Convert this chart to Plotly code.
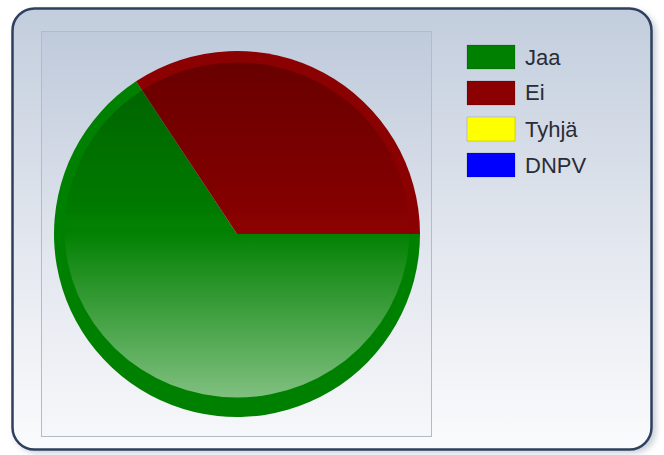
"""Aanestystulos piirakkana (Jaa / Ei / Tyhja / DNPV)."""

import base64
import plotly.graph_objects as go

# Data
nimet = ["Jaa", "Ei", "Tyhjä", "DNPV"]
osuudet = [65.7, 34.3, 0, 0]
varit = ["#008000", "#8b0000", "#ffff00", "#0000ff"]

W, H = 664, 455


def px_x(x):
    return x / W


def px_y(y):
    return 1 - y / H


def svg_uri(svg):
    return "data:image/svg+xml;base64," + base64.b64encode(svg.encode("utf-8")).decode("ascii")


# Taustapaneeli: pyoristetty kehys + kaltevuusvari
tausta_svg = f"""<svg xmlns='http://www.w3.org/2000/svg' width='{W}' height='{H}' viewBox='0 0 {W} {H}'>
<defs>
<linearGradient id='p' x1='0' y1='0' x2='0' y2='1'>
<stop offset='0' stop-color='#c2cddd'/>
<stop offset='0.55' stop-color='#e4e8ef'/>
<stop offset='1' stop-color='#fafbfc'/>
</linearGradient>
<linearGradient id='a' x1='0' y1='0' x2='0' y2='1'>
<stop offset='0' stop-color='#bfcadb'/>
<stop offset='0.55' stop-color='#e2e6ee'/>
<stop offset='1' stop-color='#f6f7fa'/>
</linearGradient>
<filter id='s' x='-5%' y='-5%' width='110%' height='110%'>
<feGaussianBlur stdDeviation='3'/>
</filter>
</defs>
<rect x='15' y='11' width='641' height='442' rx='22' fill='#9aa6b8' opacity='0.55' filter='url(#s)'/>
<rect x='12.5' y='8.5' width='639' height='441' rx='22' fill='url(#p)' stroke='#2f405e' stroke-width='2.5'/>
<rect x='41.5' y='31.5' width='390' height='405' fill='url(#a)' stroke='#b3bbc7' stroke-width='1'/>
</svg>"""

# Piirakan sisaosan varjostus (hieman ylos siirretty ellipsi)
RX_IN, RY_IN = 173, 168
CX_IN, CY_IN = 237, 230
varjo_svg = f"""<svg xmlns='http://www.w3.org/2000/svg' width='{2 * RX_IN}' height='{2 * RY_IN}' viewBox='0 0 {2 * RX_IN} {2 * RY_IN}' preserveAspectRatio='none'>
<defs>
<linearGradient id='g' x1='0' y1='0' x2='0' y2='1'>
<stop offset='0' stop-color='#000' stop-opacity='0.25'/>
<stop offset='0.45' stop-color='#000' stop-opacity='0.04'/>
<stop offset='0.5' stop-color='#fff' stop-opacity='0'/>
<stop offset='1' stop-color='#fff' stop-opacity='0.5'/>
</linearGradient>
</defs>
<ellipse cx='{RX_IN}' cy='{RY_IN}' rx='{RX_IN - 0.5}' ry='{RY_IN - 0.5}' fill='url(#g)'/>
</svg>"""

fig = go.Figure()

# Piirakka
R_OUT = 183
CX, CY = 237, 234
fig.add_trace(go.Pie(
    labels=nimet,
    values=osuudet,
    marker=dict(colors=varit, line=dict(width=0)),
    sort=False,
    direction="clockwise",
    rotation=90,
    textinfo="none",
    hoverinfo="label+percent",
    showlegend=False,
    domain=dict(
        x=[px_x(CX - R_OUT), px_x(CX + R_OUT)],
        y=[px_y(CY + R_OUT), px_y(CY - R_OUT)],
    ),
))

kuvat = [
    dict(source=svg_uri(tausta_svg), xref="paper", yref="paper",
         x=0, y=1, sizex=1, sizey=1, xanchor="left", yanchor="top",
         sizing="stretch", layer="below"),
    dict(source=svg_uri(varjo_svg), xref="paper", yref="paper",
         x=px_x(CX_IN - RX_IN), y=px_y(CY_IN - RY_IN),
         sizex=2 * RX_IN / W, sizey=2 * RY_IN / H,
         xanchor="left", yanchor="top", sizing="stretch", layer="above"),
]

# Selite kasin: leveat varilaatikot + teksti
muodot = []
tekstit = []
for i, (nimi, vari) in enumerate(zip(nimet, varit)):
    yk = 57 + 36 * i
    muodot.append(dict(
        type="rect", xref="paper", yref="paper",
        x0=px_x(467), x1=px_x(515), y0=px_y(yk + 12), y1=px_y(yk - 12),
        fillcolor=vari, line=dict(color="rgba(0,0,0,0.15)", width=1),
    ))
    tekstit.append(dict(
        text=nimi, xref="paper", yref="paper",
        x=px_x(523), y=px_y(yk), xanchor="left", yanchor="middle",
        showarrow=False, font=dict(family="Liberation Sans, Arial", size=22, color="#2a2c36"),
    ))

fig.update_layout(
    width=W,
    height=H,
    margin=dict(l=0, r=0, t=0, b=0),
    paper_bgcolor="white",
    plot_bgcolor="rgba(0,0,0,0)",
    images=kuvat,
    shapes=muodot,
    annotations=tekstit,
)

# selaimen oletusmarginaali pois, muuten kuva siirtyy 8 px
fig.write_html(
    "out.html",
    config=dict(displayModeBar=False),
    post_script="document.body.style.margin='0px';",
)
